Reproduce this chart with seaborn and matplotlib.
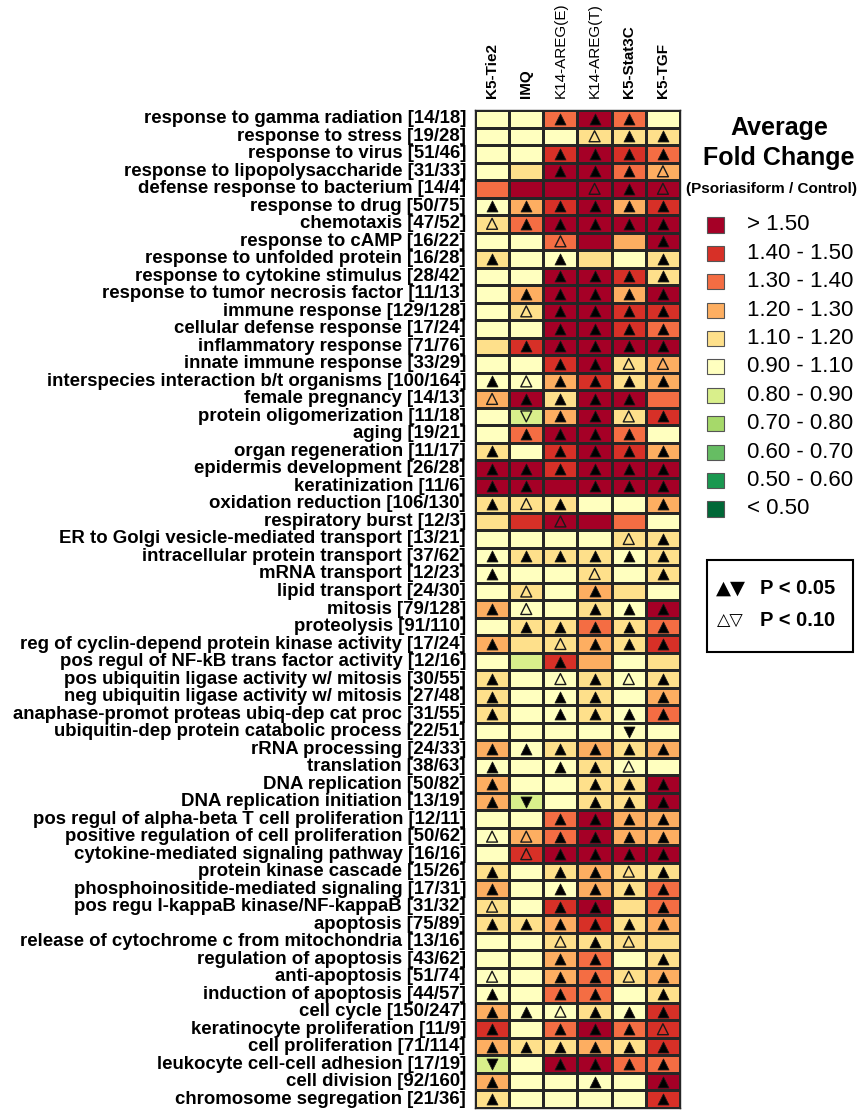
import numpy as np
import pandas as pd
import matplotlib
matplotlib.use("Agg")
import matplotlib.pyplot as plt
from matplotlib.colors import ListedColormap, BoundaryNorm
from matplotlib.patches import Rectangle
import seaborn as sns

# ---------------------------------------------------------------- data
terms = [
    "response to gamma radiation", "response to stress", "response to virus",
    "response to lipopolysaccharide", "defense response to bacterium",
    "response to drug", "chemotaxis", "response to cAMP",
    "response to unfolded protein", "response to cytokine stimulus",
    "response to tumor necrosis factor", "immune response",
    "cellular defense response", "inflammatory response",
    "innate immune response", "interspecies interaction b/t organisms",
    "female pregnancy", "protein oligomerization", "aging",
    "organ regeneration", "epidermis development", "keratinization",
    "oxidation reduction", "respiratory burst",
    "ER to Golgi vesicle-mediated transport", "intracellular protein transport",
    "mRNA transport", "lipid transport", "mitosis", "proteolysis",
    "reg of cyclin-depend protein kinase activity",
    "pos regul of NF-kB trans factor activity",
    "pos ubiquitin ligase activity w/ mitosis",
    "neg ubiquitin ligase activity w/ mitosis",
    "anaphase-promot proteas ubiq-dep cat proc",
    "ubiquitin-dep protein catabolic process", "rRNA processing",
    "translation", "DNA replication", "DNA replication initiation",
    "pos regul of alpha-beta T cell proliferation",
    "positive regulation of cell proliferation",
    "cytokine-mediated signaling pathway", "protein kinase cascade",
    "phosphoinositide-mediated signaling", "pos regu I-kappaB kinase/NF-kappaB",
    "apoptosis", "release of cytochrome c from mitochondria",
    "regulation of apoptosis", "anti-apoptosis", "induction of apoptosis",
    "cell cycle", "keratinocyte proliferation", "cell proliferation",
    "leukocyte cell-cell adhesion", "cell division", "chromosome segregation",
]
gene_counts = [
    "14/18", "19/28", "51/46", "31/33", "14/4", "50/75", "47/52", "16/22",
    "16/28", "28/42", "11/13", "129/128", "17/24", "71/76", "33/29",
    "100/164", "14/13", "11/18", "19/21", "11/17", "26/28", "11/6",
    "106/130", "12/3", "13/21", "37/62", "12/23", "24/30", "79/128",
    "91/110", "17/24", "12/16", "30/55", "27/48", "31/55", "22/51", "24/33",
    "38/63", "50/82", "13/19", "12/11", "50/62", "16/16", "15/26", "17/31",
    "31/32", "75/89", "13/16", "43/62", "51/74", "44/57", "150/247", "11/9",
    "71/114", "17/19", "92/160", "21/36",
]
models = ["K5-Tie2", "IMQ", "K14-AREG(E)", "K14-AREG(T)", "K5-Stat3C", "K5-TGF"]

# average fold change (psoriasiform / control) per model
fc_k5_tie2 = [1.03, 1.03, 1.03, 1.03, 1.35, 1.03, 1.15, 1.03, 1.15, 1.03,
              1.03, 1.03, 1.03, 1.15, 1.03, 1.03, 1.25, 1.03, 1.03, 1.15,
              1.62, 1.62, 1.15, 1.15, 1.03, 1.03, 1.03, 1.03, 1.25, 1.03,
              1.25, 1.03, 1.15, 1.15, 1.15, 1.03, 1.25, 1.03, 1.25, 1.25,
              1.03, 1.03, 1.03, 1.15, 1.25, 1.15, 1.15, 1.03, 1.03, 1.03,
              1.03, 1.25, 1.45, 1.25, 0.85, 1.25, 1.15]
fc_imq = [1.03, 1.03, 1.03, 1.15, 1.62, 1.25, 1.35, 1.03, 1.03, 1.03,
          1.25, 1.15, 1.03, 1.45, 1.03, 1.03, 1.62, 0.85, 1.35, 1.03,
          1.62, 1.62, 1.15, 1.45, 1.03, 1.15, 1.03, 1.15, 1.03, 1.15,
          1.15, 0.85, 1.03, 1.03, 1.03, 1.03, 1.03, 1.03, 1.03, 0.85,
          1.03, 1.25, 1.45, 1.03, 1.03, 1.03, 1.15, 1.03, 1.03, 1.03,
          1.03, 1.03, 1.03, 1.15, 1.03, 1.03, 1.03]
fc_k14_areg_e = [1.35, 1.03, 1.45, 1.62, 1.62, 1.45, 1.62, 1.35, 1.03, 1.62,
                 1.62, 1.62, 1.62, 1.62, 1.45, 1.25, 1.15, 1.25, 1.62, 1.45,
                 1.45, 1.62, 1.15, 1.62, 1.03, 1.15, 1.03, 1.03, 1.03, 1.15,
                 1.15, 1.45, 1.03, 1.03, 1.03, 1.03, 1.15, 1.03, 1.03, 1.03,
                 1.35, 1.35, 1.62, 1.15, 1.03, 1.45, 1.25, 1.15, 1.25, 1.25,
                 1.35, 1.03, 1.35, 1.15, 1.62, 1.03, 1.03]
fc_k14_areg_t = [1.62, 1.15, 1.62, 1.62, 1.62, 1.62, 1.62, 1.62, 1.15, 1.62,
                 1.62, 1.62, 1.62, 1.62, 1.62, 1.45, 1.62, 1.62, 1.62, 1.62,
                 1.62, 1.62, 1.03, 1.62, 1.03, 1.15, 1.15, 1.25, 1.15, 1.35,
                 1.25, 1.25, 1.15, 1.15, 1.15, 1.03, 1.25, 1.15, 1.15, 1.15,
                 1.62, 1.62, 1.62, 1.25, 1.25, 1.62, 1.45, 1.15, 1.35, 1.35,
                 1.35, 1.15, 1.62, 1.25, 1.62, 1.03, 1.03]
fc_k5_stat3c = [1.35, 1.15, 1.45, 1.35, 1.62, 1.25, 1.62, 1.25, 1.03, 1.45,
                1.25, 1.45, 1.45, 1.62, 1.15, 1.15, 1.62, 1.15, 1.35, 1.45,
                1.62, 1.62, 1.03, 1.35, 1.15, 1.03, 1.03, 1.15, 1.03, 1.15,
                1.15, 1.03, 1.03, 1.03, 1.03, 0.96, 1.15, 1.03, 1.15, 1.15,
                1.25, 1.25, 1.62, 1.15, 1.15, 1.15, 1.15, 1.15, 1.03, 1.15,
                1.03, 1.03, 1.35, 1.15, 1.35, 1.03, 1.03]
fc_k5_tgf = [1.03, 1.15, 1.35, 1.25, 1.62, 1.45, 1.62, 1.62, 1.15, 1.15,
             1.62, 1.45, 1.35, 1.62, 1.25, 1.25, 1.35, 1.45, 1.03, 1.25,
             1.62, 1.62, 1.25, 1.03, 1.15, 1.15, 1.15, 1.03, 1.62, 1.35,
             1.45, 1.15, 1.15, 1.25, 1.35, 1.03, 1.25, 1.03, 1.62, 1.62,
             1.25, 1.25, 1.62, 1.15, 1.35, 1.35, 1.25, 1.15, 1.15, 1.25,
             1.15, 1.45, 1.45, 1.45, 1.35, 1.62, 1.45]

# significance: 2 = P < 0.05, 1 = P < 0.10, 0 = not significant
sig_k5_tie2 = [0, 0, 0, 0, 0, 2, 1, 0, 2, 0,
               0, 0, 0, 0, 0, 2, 1, 0, 0, 2,
               2, 2, 2, 0, 0, 2, 2, 0, 2, 0,
               2, 0, 2, 2, 2, 0, 2, 2, 2, 2,
               0, 1, 0, 2, 2, 1, 2, 0, 0, 1,
               2, 2, 2, 2, 2, 2, 2]
sig_imq = [0, 0, 0, 0, 0, 2, 2, 0, 0, 0,
           2, 1, 0, 2, 0, 1, 2, 1, 2, 0,
           2, 2, 1, 0, 0, 2, 0, 1, 1, 2,
           0, 0, 0, 0, 0, 0, 2, 0, 0, 2,
           0, 1, 1, 0, 0, 0, 2, 0, 0, 0,
           0, 2, 0, 2, 0, 0, 0]
sig_k14_areg_e = [2, 0, 2, 2, 0, 2, 2, 1, 2, 2,
                  2, 2, 2, 2, 2, 2, 2, 2, 2, 2,
                  2, 0, 2, 1, 0, 2, 0, 0, 0, 2,
                  1, 2, 1, 2, 2, 0, 2, 2, 0, 0,
                  2, 2, 2, 2, 2, 2, 2, 1, 2, 2,
                  2, 1, 2, 2, 2, 0, 0]
sig_k14_areg_t = [2, 1, 2, 2, 1, 2, 2, 0, 0, 2,
                  2, 2, 2, 2, 2, 2, 2, 2, 2, 2,
                  2, 2, 0, 0, 0, 2, 1, 2, 2, 2,
                  2, 0, 2, 2, 2, 0, 2, 2, 2, 2,
                  2, 2, 2, 2, 2, 2, 2, 2, 2, 2,
                  2, 2, 2, 2, 2, 2, 0]
sig_k5_stat3c = [2, 2, 2, 2, 2, 2, 2, 0, 0, 2,
                 2, 2, 2, 2, 1, 2, 2, 1, 2, 2,
                 2, 2, 0, 0, 1, 2, 0, 0, 2, 2,
                 2, 0, 1, 0, 2, 2, 2, 1, 2, 2,
                 2, 2, 2, 1, 2, 0, 2, 1, 0, 1,
                 0, 2, 2, 2, 2, 0, 0]
sig_k5_tgf = [0, 2, 2, 1, 1, 2, 2, 2, 2, 2,
              2, 2, 2, 2, 1, 2, 0, 2, 0, 2,
              2, 2, 2, 0, 2, 2, 2, 0, 2, 2,
              2, 0, 2, 2, 2, 0, 2, 0, 2, 2,
              2, 2, 2, 2, 2, 2, 2, 0, 2, 2,
              2, 2, 1, 2, 2, 2, 2]

# fold-change classes
bin_edges = [0.0, 0.5, 0.6, 0.7, 0.8, 0.9, 1.1, 1.2, 1.3, 1.4, 1.5, 10.0]
bin_colors = ["#006837", "#1a9850", "#66bd63", "#a6d96a", "#d9ef8b", "#ffffbf",
              "#fee08b", "#fdae61", "#f46d43", "#d73027", "#a50026"]
bin_labels = ["< 0.50", "0.50 - 0.60", "0.60 - 0.70", "0.70 - 0.80",
              "0.80 - 0.90", "0.90 - 1.10", "1.10 - 1.20", "1.20 - 1.30",
              "1.30 - 1.40", "1.40 - 1.50", "> 1.50"]

# ---------------------------------------------------------------- frames
row_labels = [f"{t} [{c}]" for t, c in zip(terms, gene_counts)]
fold = pd.DataFrame(
    np.column_stack([fc_k5_tie2, fc_imq, fc_k14_areg_e,
                     fc_k14_areg_t, fc_k5_stat3c, fc_k5_tgf]),
    index=row_labels, columns=models)
sig = pd.DataFrame(
    np.column_stack([sig_k5_tie2, sig_imq, sig_k14_areg_e,
                     sig_k14_areg_t, sig_k5_stat3c, sig_k5_tgf]),
    index=row_labels, columns=models)

sns.set_theme(style="white")
plt.rcParams["font.family"] = ["Liberation Sans", "DejaVu Sans"]
plt.rcParams["text.color"] = "black"
plt.rcParams["xtick.color"] = "black"
plt.rcParams["ytick.color"] = "black"

W, H = 862, 1115
fig = plt.figure(figsize=(W / 100, H / 100), dpi=100)


def fx(x):
    return x / W


def fy(y):
    return 1 - y / H


ax = fig.add_axes([fx(475), fy(1108), 205 / W, 998 / H])
cmap = ListedColormap(bin_colors)
norm = BoundaryNorm(bin_edges, cmap.N)
sns.heatmap(fold, cmap=cmap, norm=norm, cbar=False, linewidths=0.8,
            linecolor="#262626", xticklabels=True, yticklabels=True, ax=ax)
for s in ax.spines.values():
    s.set_visible(True)
    s.set_color("#262626")
    s.set_linewidth(1.0)

# significance triangles
long = sig.stack().reset_index()
long.columns = ["term", "model", "level"]
long["fc"] = fold.stack().values
long["x"] = long["model"].map({m: i + 0.5 for i, m in enumerate(models)})
long["y"] = long["term"].map({t: i + 0.5 for i, t in enumerate(row_labels)})
for level, face in [(2, "black"), (1, "none")]:
    for up, mk in [(True, "^"), (False, "v")]:
        sub = long[(long["level"] == level) & ((long["fc"] >= 1) == up)]
        if len(sub):
            ax.scatter(sub["x"], sub["y"], marker=mk, s=62,
                       facecolors=face, edgecolors="#1a1a1a",
                       linewidths=1.0 if level == 1 else 0.6, zorder=3)

ax.xaxis.tick_top()
ax.set_xticklabels(models, rotation=90, fontsize=11)
for lab in ax.get_xticklabels():
    lab.set_fontweight("normal" if lab.get_text().startswith("K14") else "bold")
ax.set_yticklabels(row_labels, rotation=0, fontsize=13.45, fontweight="bold")
ax.tick_params(axis="x", length=0, pad=9)
ax.tick_params(axis="y", length=0, pad=6.5)
ax.set_xlabel("")
ax.set_ylabel("")

# fold-change legend
fig.text(fx(779), fy(128), "Average", ha="center", va="center",
         fontsize=18, fontweight="bold")
fig.text(fx(779), fy(158), "Fold Change", ha="center", va="center",
         fontsize=18, fontweight="bold")
fig.text(fx(772), fy(189), "(Psoriasiform / Control)", ha="center",
         va="center", fontsize=11, fontweight="bold")
for k, (col, lab) in enumerate(zip(bin_colors[::-1], bin_labels[::-1])):
    yc = 225 + k * 28.4
    fig.add_artist(Rectangle((fx(707), fy(yc + 7.5)), 17 / W, 15 / H,
                             transform=fig.transFigure, facecolor=col,
                             edgecolor="#555555", linewidth=0.8))
    fig.text(fx(747), fy(yc), lab, ha="left", va="center", fontsize=16)

# p-value legend
fig.add_artist(Rectangle((fx(707), fy(652)), 146 / W, 92 / H,
                         transform=fig.transFigure, fill=False,
                         edgecolor="black", linewidth=1.5))
fig.text(fx(716), fy(588), "▲▼", ha="left", va="center", fontsize=14,
         family="DejaVu Sans")
fig.text(fx(760), fy(588), "P < 0.05", ha="left", va="center",
         fontsize=14.5, fontweight="bold")
fig.text(fx(717), fy(620), "△▽", ha="left", va="center", fontsize=12.5,
         family="DejaVu Sans")
fig.text(fx(760), fy(620), "P < 0.10", ha="left", va="center",
         fontsize=14.5, fontweight="bold")

fig.savefig("out.png", dpi=100)
